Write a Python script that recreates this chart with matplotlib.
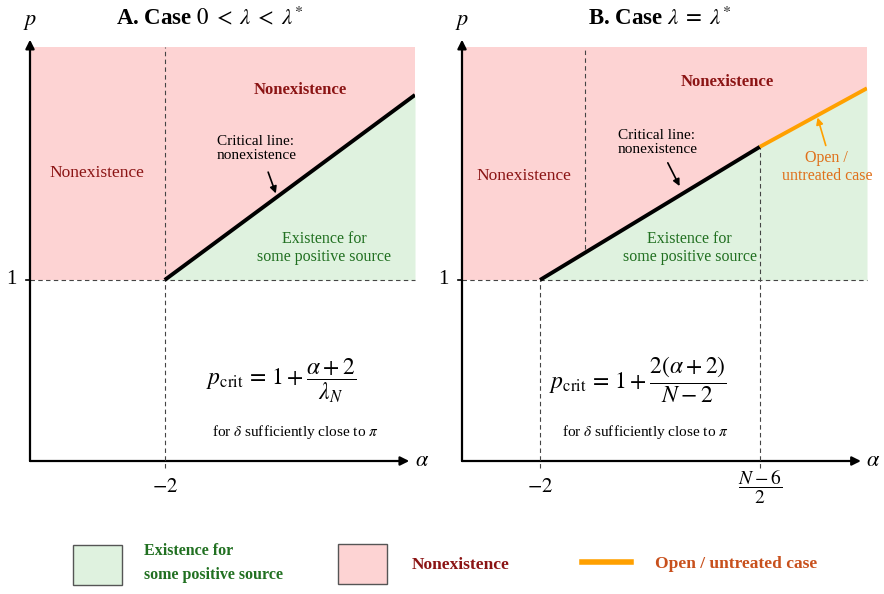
import matplotlib
matplotlib.use("Agg")
import matplotlib.pyplot as plt
from matplotlib.patches import Patch
from matplotlib.lines import Line2D

plt.rcParams['font.family'] = ['Liberation Serif', 'DejaVu Serif']
plt.rcParams['mathtext.fontset'] = 'stix'

# colours
RED_FILL = '#fdd3d3'
GREEN_FILL = '#dff2df'
DARK_RED = '#8b1414'
DARK_GREEN = '#217021'
ORANGE = '#ffa000'
ORANGE_TXT = '#e0701a'
LEG_ORANGE = '#c8501c'

# axes ranges (same p scale in both panels)
p_lim = (-0.36, 2.75)
alpha_lim_A = (-4.45, 2.55)
alpha_lim_B = (-3.42, 3.95)

# panel A: critical line p = 1 + (alpha+2)/lambda_N
crit_A_alpha = [-2.0, 2.55]
crit_A_p = [1.0, 2.39]

# panel B: critical line up to (N-6)/2, then open case
crit_B_alpha = [-2.0, 2.0]
crit_B_p = [1.0, 2.0]
open_B_alpha = [2.0, 3.95]
open_B_p = [2.0, 2.44]
extra_dash_B = -1.18   # dashed line above the critical line in B

alpha_ticks_A = [-2.0]
alpha_tick_labels_A = [r'$-2$']
alpha_ticks_B = [-2.0, 2.0]
alpha_tick_labels_B = [r'$-2$', r'$\dfrac{N-6}{2}$']

fig = plt.figure(figsize=(8.84, 5.94), dpi=100)
W, H = 884, 594


def make_ax(left_px, width_px):
    return fig.add_axes([left_px / W, (H - 461) / H, width_px / W, 414 / H])


axA = make_ax(30, 385)
axB = make_ax(462, 405)

dash_kw = dict(color='#444444', lw=0.8, ls=(0, (4, 3)), zorder=3, clip_on=False)


def base(ax, xlim, top_a, top_p):
    ax.set_xlim(*xlim)
    ax.set_ylim(*p_lim)
    ax.axis('off')
    x0, x1 = xlim
    y0, y1 = p_lim
    # red region (whole shaded box above p = 1)
    ax.fill_between([x0, x1], [1, 1], [y1, y1], color=RED_FILL, lw=0, zorder=1)
    # green region under the boundary
    ax.fill_between(top_a, [1] * len(top_a), top_p, color=GREEN_FILL, lw=0, zorder=2)
    # p = 1 dashed line
    ax.plot([x0, x1], [1, 1], **dash_kw)
    # axes arrows
    x_tip = x0 + (x1 - x0) * 0.985
    ax.annotate('', xy=(x_tip, y0), xytext=(x0, y0),
                arrowprops=dict(arrowstyle='-|>', lw=1.6, color='k', mutation_scale=13,
                                shrinkA=0, shrinkB=0), annotation_clip=False)
    ax.annotate('', xy=(x0, y1 + 0.055), xytext=(x0, y0),
                arrowprops=dict(arrowstyle='-|>', lw=1.6, color='k', mutation_scale=13,
                                shrinkA=0, shrinkB=0), annotation_clip=False)
    ax.annotate(r'$\alpha$', xy=(x_tip, y0), xytext=(4, 0), textcoords='offset points',
                fontsize=16, va='center', ha='left', annotation_clip=False)
    ax.annotate(r'$p$', xy=(x0, y1), xytext=(0, 11), textcoords='offset points',
                fontsize=16, va='bottom', ha='center', annotation_clip=False)
    # tick at p = 1
    ax.plot([x0 - 0.08, x0], [1, 1], color='k', lw=1.2, clip_on=False)
    ax.annotate('1', xy=(x0, 1), xytext=(-10, 0), textcoords='offset points',
                fontsize=15, va='center', ha='right', annotation_clip=False)


# ---------- panel A ----------
base(axA, alpha_lim_A, crit_A_alpha, crit_A_p)
axA.plot([-2, -2], [p_lim[0] - 0.05, p_lim[1]], **dash_kw)
axA.plot(crit_A_alpha, crit_A_p, color='k', lw=2.8, zorder=5, solid_capstyle='butt')
for a, lab in zip(alpha_ticks_A, alpha_tick_labels_A):
    axA.annotate(lab, xy=(a, p_lim[0]), xytext=(0, -12), textcoords='offset points',
                 fontsize=15, ha='center', va='top', annotation_clip=False)

axA.text(0.46, 2.43, 'Nonexistence', color=DARK_RED, fontsize=12, fontweight='bold',
         ha='center', va='center', zorder=6)
axA.text(-3.23, 1.80, 'Nonexistence', color=DARK_RED, fontsize=12.5,
         ha='center', va='center', zorder=6)
axA.text(-1.05, 1.99, 'Critical line:\nnonexistence', color='k', fontsize=11,
         ha='left', va='center', linespacing=1.1, zorder=6)
axA.annotate('', xy=(0.02, 1.65), xytext=(-0.12, 1.81),
             arrowprops=dict(arrowstyle='-|>', lw=1.2, color='k', mutation_scale=10,
                             shrinkA=0, shrinkB=0), zorder=6)
axA.text(0.90, 1.24, 'Existence for\nsome positive source', color=DARK_GREEN, fontsize=11.5,
         ha='center', va='center', linespacing=1.2, zorder=6)
axA.text(0.12, 0.246, r'$p_{\mathrm{crit}} \,=\, 1 + \dfrac{\alpha + 2}{\lambda_N}$',
         fontsize=17, ha='center', va='center')
axA.text(0.37, -0.145, r'for $\delta$ sufficiently close to $\pi$', fontsize=11,
         ha='center', va='center')

# ---------- panel B ----------
top_B_alpha = crit_B_alpha + open_B_alpha[1:]
top_B_p = crit_B_p + open_B_p[1:]
base(axB, alpha_lim_B, top_B_alpha, top_B_p)
axB.plot([-2, -2], [p_lim[0] - 0.05, 1], **dash_kw)
axB.plot([2, 2], [p_lim[0] - 0.05, 2], **dash_kw)
extra_top = 1 + (extra_dash_B + 2) / 4
axB.plot([extra_dash_B, extra_dash_B], [extra_top + 0.03, p_lim[1]], **dash_kw)
axB.plot(crit_B_alpha, crit_B_p, color='k', lw=2.8, zorder=5, solid_capstyle='butt')
axB.plot(open_B_alpha, open_B_p, color=ORANGE, lw=2.8, zorder=5, solid_capstyle='butt')
for a, lab in zip(alpha_ticks_B, alpha_tick_labels_B):
    off = -12 if a < 0 else -5
    fs = 15 if a < 0 else 14
    axB.annotate(lab, xy=(a, p_lim[0]), xytext=(0, off), textcoords='offset points',
                 fontsize=fs, ha='center', va='top', annotation_clip=False)

axB.text(1.40, 2.49, 'Nonexistence', color=DARK_RED, fontsize=12, fontweight='bold',
         ha='center', va='center', zorder=6)
axB.text(-2.29, 1.78, 'Nonexistence', color=DARK_RED, fontsize=12.5,
         ha='center', va='center', zorder=6)
axB.text(-0.58, 2.03, 'Critical line:\nnonexistence', color='k', fontsize=11,
         ha='left', va='center', linespacing=1.1, zorder=6)
axB.annotate('', xy=(0.54, 1.705), xytext=(0.325, 1.88),
             arrowprops=dict(arrowstyle='-|>', lw=1.2, color='k', mutation_scale=10,
                             shrinkA=0, shrinkB=0), zorder=6)
axB.text(0.725, 1.24, 'Existence for\nsome positive source', color=DARK_GREEN, fontsize=11.5,
         ha='center', va='center', linespacing=1.2, zorder=6)
axB.text(3.22, 1.85, 'Open /\nuntreated case', color=ORANGE_TXT, fontsize=11.5,
         ha='center', va='center', linespacing=1.2, zorder=6)
axB.annotate('', xy=(3.05, 2.22), xytext=(3.20, 2.01),
             arrowprops=dict(arrowstyle='-|>', lw=1.2, color=ORANGE, mutation_scale=10,
                             shrinkA=0, shrinkB=0), zorder=6)
axB.text(-0.22, 0.246, r'$p_{\mathrm{crit}} \,=\, 1 + \dfrac{2(\alpha + 2)}{N - 2}$',
         fontsize=17, ha='center', va='center')
axB.text(-0.09, -0.145, r'for $\delta$ sufficiently close to $\pi$', fontsize=11,
         ha='center', va='center')

# titles
fig.text(210 / W, 1 - 18 / H, r'A. Case $0 \;<\; \lambda \;<\; \lambda^{*}$', fontsize=16.5,
         fontweight='bold', ha='center', va='center')
fig.text(660 / W, 1 - 18 / H, r'B. Case $\lambda \;=\; \lambda^{*}$', fontsize=16.5,
         fontweight='bold', ha='center', va='center')

# legend: three separate entries along the bottom
leg_items = [
    (Patch(facecolor=GREEN_FILL, edgecolor='#555555', lw=1.0),
     'Existence for\nsome positive source', DARK_GREEN, 73, 11.5, True),
    (Patch(facecolor=RED_FILL, edgecolor='#555555', lw=1.0),
     'Nonexistence', DARK_RED, 338, 12.5, True),
    (Line2D([], [], color=ORANGE, lw=4),
     'Open / untreated case', LEG_ORANGE, 582, 12.5, False),
]
box_w_pt = 49 * 72 / 100
box_h_pt = 40 * 72 / 100
for handle, label, col, xpx, fs, is_box in leg_items:
    hh = (box_h_pt / fs - 0.245) / 0.65 if is_box else 0.7
    leg = fig.legend([handle], [label], loc='center left',
                     bbox_to_anchor=(xpx / W, 1 - 564 / H), frameon=False,
                     borderpad=0, borderaxespad=0, handlelength=box_w_pt / fs,
                     handleheight=hh, handletextpad=1.4,
                     prop=dict(weight='bold', size=fs))
    for t in leg.get_texts():
        t.set_color(col)
        t.set_linespacing(1.6)

fig.savefig('out.png', dpi=100)
